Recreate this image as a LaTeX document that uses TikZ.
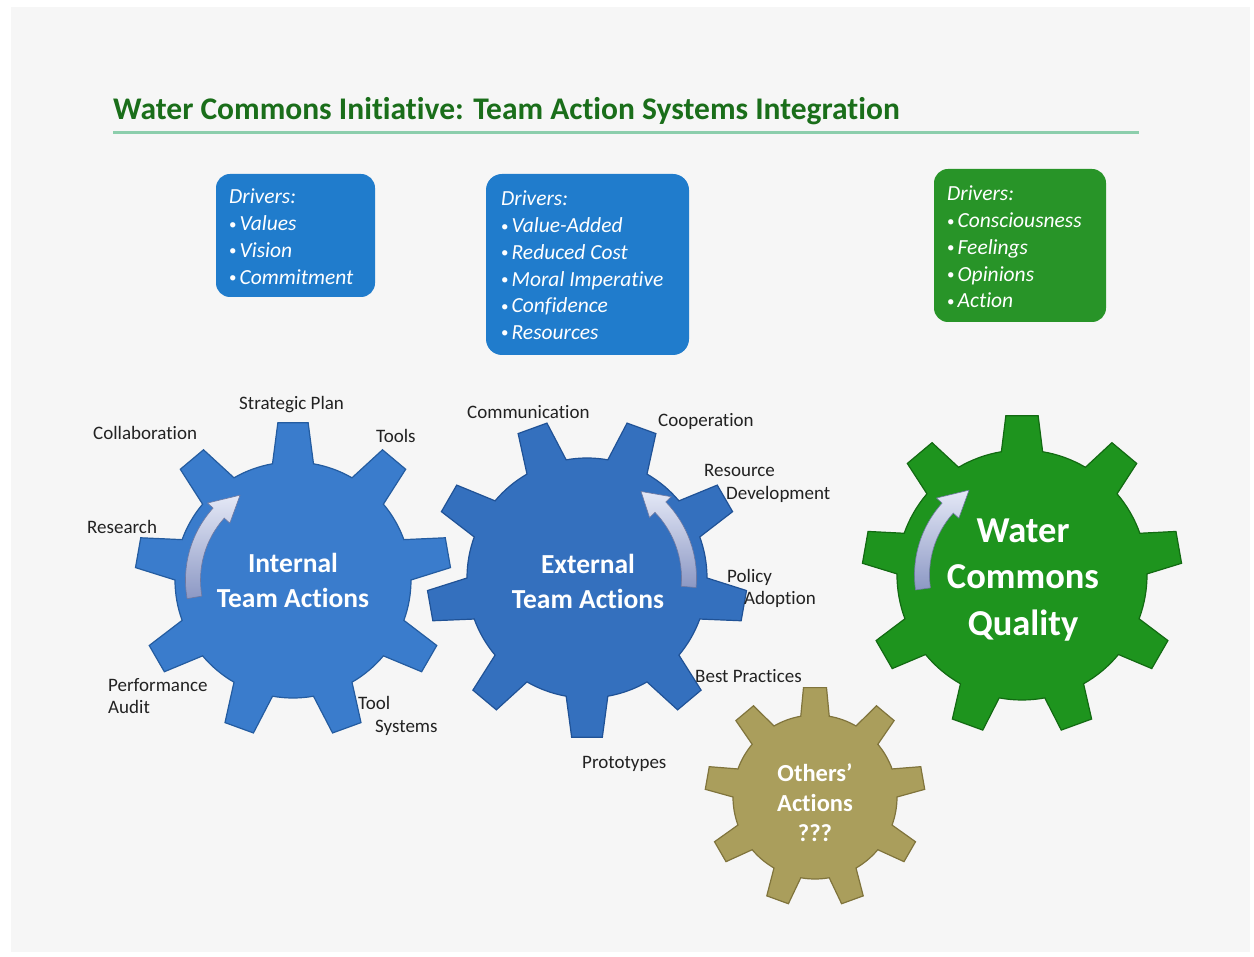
\documentclass[tikz,border=0pt]{standalone}
\usepackage{fontspec}
\setmainfont{Carlito}[Ligatures=NoCommon]
\definecolor{slidebg}{RGB}{246,246,246}
\definecolor{titlegreen}{RGB}{26,110,26}
\definecolor{ruleg}{RGB}{140,206,172}
\definecolor{boxblue}{RGB}{32,124,204}
\definecolor{boxgreen}{RGB}{40,148,40}
\definecolor{gearA}{RGB}{58,124,204}
\definecolor{gearAd}{RGB}{36,92,160}
\definecolor{gearB}{RGB}{52,112,190}
\definecolor{gearBd}{RGB}{32,82,150}
\definecolor{gearC}{RGB}{30,148,30}
\definecolor{gearCd}{RGB}{18,106,18}
\definecolor{gearD}{RGB}{170,158,92}
\definecolor{gearDd}{RGB}{128,116,60}
\definecolor{labelc}{RGB}{34,34,34}
\definecolor{arrowtop}{RGB}{228,232,246}
\definecolor{arrowbot}{RGB}{140,152,196}
\definecolor{arrowline}{RGB}{110,120,160}
\newcommand{\mygear}[8]{%
  \begin{scope}[shift={(#1,#2)}]
    \path[#8] ({#5-#6}:#3) \foreach \k in {0,...,8}{
      -- ({#5+40*\k-#6}:#3) -- ({#5+40*\k-#7}:#4) -- ({#5+40*\k+#7}:#4)
      -- ({#5+40*\k+#6}:#3)
      arc[start angle={#5+40*\k+#6}, end angle={#5+40*\k+40-#6}, radius=#3]} -- cycle;
  \end{scope}}
\newcommand{\bul}{\raisebox{1.6pt}{\fontsize{15}{15}\selectfont\upshape •}\hspace{3pt}}
\tikzset{
  lbl/.style={anchor=base west, inner sep=0pt, text=labelc, font=\fontsize{19}{22}\selectfont},
  drv/.style={anchor=north west, inner sep=0pt, text=white, align=left, font=\itshape\fontsize{21.5}{26.7}\selectfont},
  gtext/.style={text=white, align=center, inner sep=0pt},
  turn/.style={top color=arrowtop, bottom color=arrowbot, draw=arrowline, line width=0.6pt},
}
\begin{document}
\begin{tikzpicture}[x=1pt,y=-1pt]
\useasboundingbox (0,0) rectangle (1254,957);
\fill[white] (0,0) rectangle (1254,957);
\fill[slidebg] (11,7) rectangle (1250,952);

% title
\node[anchor=base west, inner sep=0pt, text=titlegreen, font=\bfseries\fontsize{31.5}{36}\selectfont] (title) at (113,120) {Water Commons Initiative: Team Action Systems Integration};
\coordinate (ruleA) at (113,133);
\coordinate (ruleB) at (1139,133);
\draw[ruleg, line width=3pt] (ruleA) -- (ruleB);

% driver boxes
\fill[boxblue, rounded corners=14pt] (216,174) rectangle (375,297);
\node[drv] (d1) at (229,189) {Drivers:\\\bul Values\\\bul Vision\\\bul Commitment};
\fill[boxblue, rounded corners=16pt] (486,174) rectangle (689,355);
\node[drv] (d2) at (501,191) {Drivers:\\\bul Value-Added\\\bul Reduced Cost\\\bul Moral Imperative\\\bul Confidence\\\bul Resources};
\fill[boxgreen, rounded corners=14pt] (934,169) rectangle (1106,322);
\node[drv] (d3) at (947,186) {Drivers:\\\bul Consciousness\\\bul Feelings\\\bul Opinions\\\bul Action};

% gears
\mygear{293}{580}{118}{158}{-90}{10}{5.5}{fill=gearA, draw=gearAd, line width=1.2pt}
\mygear{587}{578}{120}{160}{-70}{10}{5.5}{fill=gearB, draw=gearBd, line width=1.2pt}
\mygear{1022}{575}{125}{160}{-90}{9.5}{5.8}{fill=gearC, draw=gearCd, line width=1.2pt}
\mygear{815}{797}{82}{110}{-90}{10}{6}{fill=gearD, draw=gearDd, line width=1.2pt}

% turning arrows
\begin{scope}[shift={(293,580)}]
  \path[turn] (-190:107.5) arc[start angle=-190,end angle=-138,radius=107.5] -- (-138:115) -- (-122:100) -- (-138:85) -- (-138:92.5) arc[start angle=-138,end angle=-190,radius=92.5] -- cycle;
\end{scope}
\begin{scope}[shift={(587,578)}]
  \path[turn] (5:109.5) arc[start angle=5,end angle=-44,radius=109.5] -- (-44:117) -- (-58:102) -- (-44:87) -- (-44:94.5) arc[start angle=-44,end angle=5,radius=94.5] -- cycle;
\end{scope}
\begin{scope}[shift={(1022,575)}]
  \path[turn] (-188:107.5) arc[start angle=-188,end angle=-138,radius=107.5] -- (-138:115) -- (-122:100) -- (-138:85) -- (-138:92.5) arc[start angle=-138,end angle=-188,radius=92.5] -- cycle;
\end{scope}

% gear texts
\node[gtext, font=\bfseries\fontsize{27.5}{35}\selectfont] (g1) at (293,580) {Internal\\Team Actions};
\node[gtext, font=\bfseries\fontsize{27.5}{35}\selectfont] (g2) at (588,581) {External\\Team Actions};
\node[gtext, font=\bfseries\fontsize{36.5}{46.5}\selectfont] (g3) at (1023,580) {Water\\Commons\\Quality};
\node[gtext, font=\bfseries\fontsize{24.5}{30}\selectfont] (g4) at (815,803) {Others’\\Actions\\???};

% labels
\node[lbl] (l1) at (239,410) {Strategic Plan};
\node[lbl] (l2) at (93,440) {Collaboration};
\node[lbl] (l3) at (376,443) {Tools};
\node[lbl] (l4) at (87,533) {Research};
\node[lbl] (l5) at (108,691) {Performance};
\node[lbl] (l5b) at (108,713) {Audit};
\node[lbl] (l6) at (358,709) {Tool};
\node[lbl] (l6b) at (375,732) {Systems};
\node[lbl] (l7) at (467,419) {Communication};
\node[lbl] (l8) at (658,427) {Cooperation};
\node[lbl] (l9) at (704,477) {Resource};
\node[lbl] (l9b) at (726,500) {Development};
\node[lbl] (l10) at (727,582) {Policy};
\node[lbl] (l10b) at (744,605) {Adoption};
\node[lbl] (l11) at (695,682) {Best Practices};
\node[lbl] (l12) at (582,768) {Prototypes};
\end{tikzpicture}
\end{document}
